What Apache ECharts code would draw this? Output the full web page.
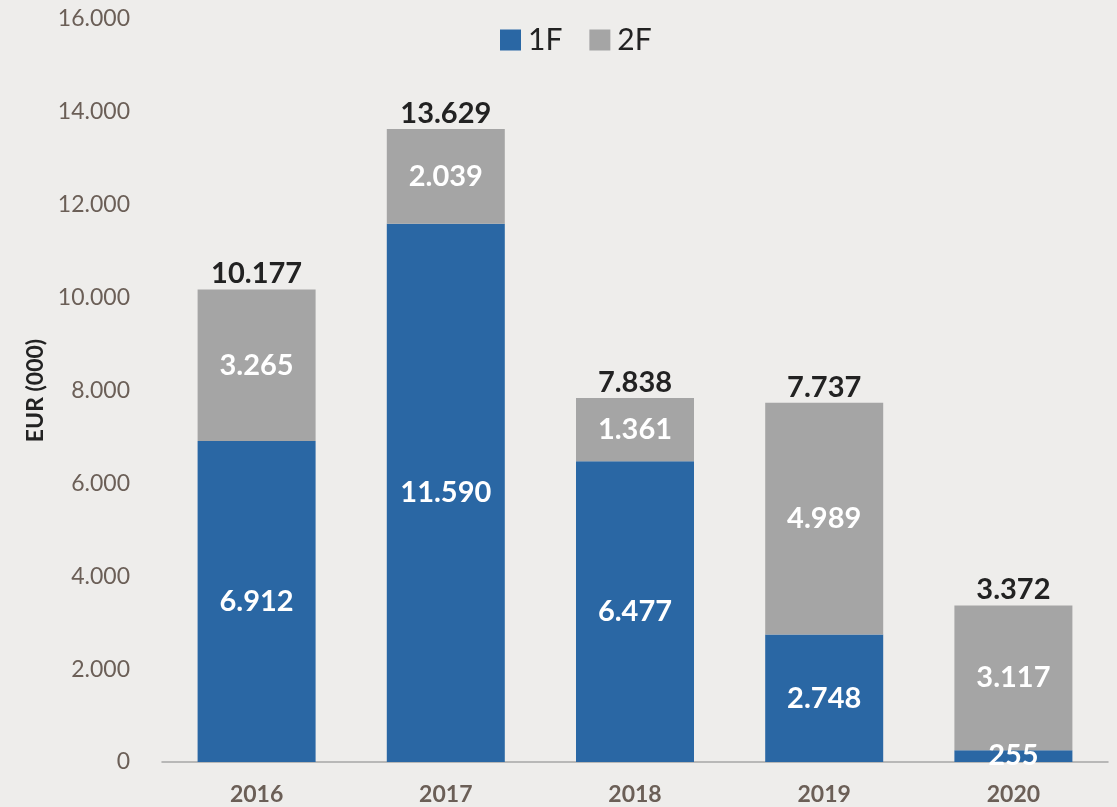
<!DOCTYPE html>
<html>
<head>
<meta charset="utf-8">
<script src="https://cdn.jsdelivr.net/npm/echarts@6/dist/echarts.min.js"></script>
<style>
  html, body { margin: 0; padding: 0; background: #eeedeb; }
  #main { width: 1117px; height: 807px; }
</style>
</head>
<body>
<div id="main"></div>
<script>
const years = ['2016', '2017', '2018', '2019', '2020']
const oneF = [6912, 11590, 6477, 2748, 255]
const twoF = [3265, 2039, 1361, 4989, 3117]
const totals = [10177, 13629, 7838, 7737, 3372]

// punto come separatore delle migliaia
const fmt = (v) => String(v).replace(/\B(?=(\d{3})+(?!\d))/g, '.')

const font = 'Lato, "Open Sans", sans-serif'
const chart = echarts.init(document.getElementById('main'))

chart.setOption({
  backgroundColor: '#eeedeb',
  textStyle: { fontFamily: font },
  legend: {
    data: ['1F', '2F'],
    top: 20,
    left: 495,
    itemWidth: 21,
    itemHeight: 21,
    itemGap: 27,
    icon: 'rect',
    textStyle: { fontSize: 30, color: '#222', fontFamily: font, padding: [0, 0, 0, 2] }
  },
  grid: { left: 162, right: 9, top: 19, bottom: 45 },
  xAxis: {
    type: 'category',
    data: years,
    axisLine: { lineStyle: { color: '#a6a6a6', width: 1.5 } },
    axisTick: { length: 8, lineStyle: { color: '#a6a6a6', width: 1.5 } },
    axisLabel: { fontSize: 23, fontWeight: 'bold', color: '#6b5f57', margin: 21, fontFamily: font }
  },
  yAxis: {
    type: 'value',
    min: 0,
    max: 16000,
    interval: 2000,
    name: 'EUR (000)',
    nameLocation: 'middle',
    nameGap: 115,
    nameTextStyle: { fontSize: 23, fontWeight: 'bold', color: '#222', fontFamily: font },
    axisLine: { show: false },
    axisTick: { show: false },
    splitLine: { show: false },
    axisLabel: { fontSize: 23, color: '#6b5f57', margin: 32, formatter: fmt, fontFamily: font }
  },
  series: [
    {
      name: '1F',
      type: 'bar',
      stack: 'tot',
      barWidth: 118,
      data: oneF,
      itemStyle: { color: '#2a67a4' },
      label: { show: true, position: 'inside', color: '#fff', fontSize: 29, fontWeight: 'bold', fontFamily: font, formatter: (p) => fmt(p.value) }
    },
    {
      name: '2F',
      type: 'bar',
      stack: 'tot',
      data: twoF,
      itemStyle: { color: '#a5a5a5' },
      label: { show: true, position: 'inside', color: '#fff', fontSize: 29, fontWeight: 'bold', fontFamily: font, formatter: (p) => fmt(p.value) }
    },
    {
      name: 'Totale',
      type: 'bar',
      stack: 'tot',
      data: totals.map(() => 0),
      itemStyle: { color: 'transparent' },
      label: {
        show: true, position: 'top', distance: 1, color: '#222', fontSize: 29, fontWeight: 'bold', fontFamily: font,
        formatter: (p) => fmt(totals[p.dataIndex])
      }
    }
  ]
})
</script>
</body>
</html>
